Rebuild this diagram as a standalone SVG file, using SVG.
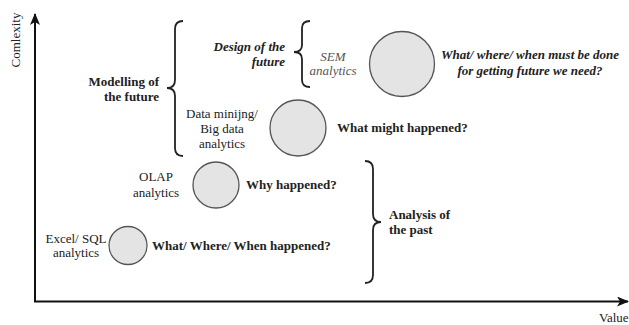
<svg xmlns="http://www.w3.org/2000/svg" width="629" height="325" viewBox="0 0 629 325">
<defs>
<style>
text{font-family:"Liberation Serif","Times New Roman",serif;font-size:13px;fill:#222}
.b{font-weight:bold}
.bi{font-weight:bold;font-style:italic}
.it{font-style:italic;fill:#555}
.m{text-anchor:middle}
.e{text-anchor:end}
.c{fill:#e4e4e4;stroke:#555;stroke-width:1.3}
.br{fill:none;stroke:#222;stroke-width:1.8}
.ax{fill:none;stroke:#111;stroke-width:2}
</style>
<marker id="ah" viewBox="0 0 12 10" refX="11" refY="5" markerWidth="12" markerHeight="10" markerUnits="userSpaceOnUse" orient="auto">
<path d="M0,0 L12,5 L0,10 L3,5 Z" fill="#111"/>
</marker>
</defs>
<rect width="629" height="325" fill="#fff"/>
<g id="axes" class="connectors">
<path class="ax" d="M35,302 L35,14" marker-end="url(#ah)"/>
<path class="ax" d="M34,301.5 L628,301.5" marker-end="url(#ah)"/>
<text x="16" y="40" class="m" font-size="12" transform="rotate(-90 16 40)" dy="4">Comlexity</text>
<text x="599" y="322" font-size="12">Value</text>
</g>
<g id="modelling">
<path class="br" d="M183,21 Q175,21 175,29 L175,80 Q175,88 167,88 Q175,88 175,96 L175,148 Q175,156 183,156"/>
<text class="b e" x="159" y="86">Modelling of</text>
<text class="b e" x="159" y="101">the future</text>
</g>
<g id="design">
<path class="br" d="M310,21 Q302,21 302,28 L302,45 Q302,52 294,52 Q302,52 302,59 L302,80 Q302,87 310,87"/>
<text class="bi e" x="285" y="51">Design of the</text>
<text class="bi e" x="285" y="66">future</text>
</g>
<g id="sem">
<text class="it m" x="333" y="61">SEM</text>
<text class="it m" x="333" y="75">analytics</text>
<circle class="c" cx="402" cy="64" r="32.5"/>
<text class="bi m" x="530" y="59">What/ where/ when must be done</text>
<text class="bi m" x="530" y="75">for getting future we need?</text>
</g>
<g id="datamining">
<text class="m" x="222" y="118">Data minijng/</text>
<text class="m" x="222" y="133">Big data</text>
<text class="m" x="222" y="148">analytics</text>
<circle class="c" cx="298" cy="128" r="28"/>
<text class="b" x="337" y="132">What might happened?</text>
</g>
<g id="olap">
<text class="m" x="156" y="181">OLAP</text>
<text class="m" x="156" y="197">analytics</text>
<circle class="c" cx="216" cy="185" r="23"/>
<text class="b" x="246" y="189">Why happened?</text>
</g>
<g id="excel">
<text class="m" x="76" y="243">Excel/ SQL</text>
<text class="m" x="76" y="257">analytics</text>
<circle class="c" cx="128" cy="245.5" r="19"/>
<text class="b" x="152" y="250">What/ Where/ When happened?</text>
</g>
<g id="analysis">
<path class="br" d="M365,161 Q373,161 373,169 L373,214 Q373,222 381,222 Q373,222 373,230 L373,275 Q373,283 365,283"/>
<text class="b" x="389" y="219">Analysis of</text>
<text class="b" x="389" y="234">the past</text>
</g>
</svg>
